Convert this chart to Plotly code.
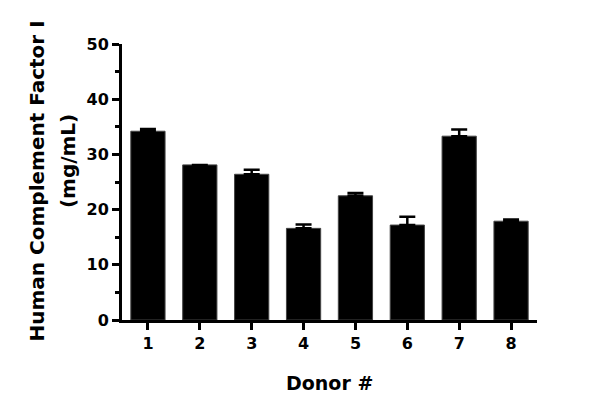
import plotly.graph_objects as go

donors = [1, 2, 3, 4, 5, 6, 7, 8]
donor_labels = ["1", "2", "3", "4", "5", "6", "7", "8"]
means = [34.2, 28.1, 26.4, 16.6, 22.5, 17.2, 33.3, 17.9]
errors = [0.4, 0.0, 0.8, 0.7, 0.5, 1.5, 1.2, 0.3]

FONT = "DejaVu Sans"

fig = go.Figure()
fig.add_trace(go.Bar(
    x=donors, y=means, width=0.66,
    marker=dict(color="black", line=dict(color="#444444", width=1)),
    error_y=dict(type="data", array=errors, arrayminus=[0]*len(errors), symmetric=False,
                 color="black", thickness=2.5, width=8),
))

title_font = dict(family=FONT, size=19, color="black", weight="bold")
ytitle_font = dict(family=FONT, size=20, color="black", weight="bold")

fig.update_layout(
    width=600, height=416,
    margin=dict(l=114, r=71, t=36, b=104),
    plot_bgcolor="white", paper_bgcolor="white",
    showlegend=False,
    font=dict(family=FONT, color="black"),
    xaxis=dict(
        range=[0.5, 8.5], tickvals=donors, ticktext=donor_labels,
        showline=True, linecolor="black", linewidth=3,
        ticks="outside", ticklen=7, tickwidth=3, tickcolor="black",
        showgrid=False, zeroline=False, automargin=False,
        tickfont=dict(family=FONT, size=16, color="black", weight="bold"),
    ),
    yaxis=dict(
        range=[0, 50], tickvals=[0, 10, 20, 30, 40, 50],
        showline=True, linecolor="black", linewidth=3,
        ticks="outside", ticklen=7, tickwidth=3, tickcolor="black",
        minor=dict(tickvals=[5, 15, 25, 35, 45], ticks="outside", ticklen=4, tickwidth=3, tickcolor="black"),
        showgrid=False, zeroline=False, automargin=False,
        tickfont=dict(family=FONT, size=16, color="black", weight="bold"),
    ),
    annotations=[
        dict(text="Human Complement Factor I", textangle=-90, xref="paper", yref="paper",
             x=-0.2048, y=0.502, xanchor="center", yanchor="middle", showarrow=False, font=ytitle_font),
        dict(text="(mg/mL)", textangle=-90, xref="paper", yref="paper",
             x=-0.130, y=0.576, xanchor="center", yanchor="middle", showarrow=False, font=ytitle_font),
        dict(text="Donor #", xref="paper", yref="paper",
             x=0.501, y=-0.228, xanchor="center", yanchor="middle", showarrow=False, font=title_font),
    ],
)

fig.write_html("out.html")
